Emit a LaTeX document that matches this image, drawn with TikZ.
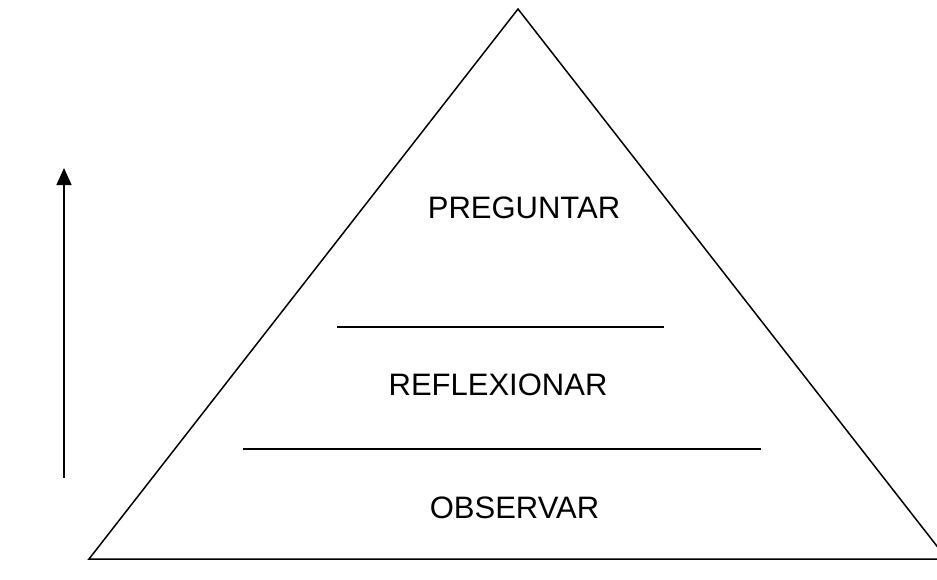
\documentclass[tikz,border=0pt]{standalone}
\usepackage{fontspec}
\setmainfont{Liberation Sans}
\usetikzlibrary{arrows.meta}
\begin{document}
\begin{tikzpicture}[x=1pt,y=-1pt,
  edge/.style={line width=1.5pt,black},
  label/.style={font=\fontsize{31}{37}\selectfont,inner sep=0pt,anchor=center}]
\useasboundingbox (0,0) rectangle (937,579);
\clip (0,0) rectangle (937,579);
\coordinate (apex) at (518,9);
\coordinate (bl) at (89,559);
\coordinate (br) at (947,559);
\draw[edge,line join=miter] (apex) -- (bl) -- (br) -- cycle;
\coordinate (u1) at (337,327);
\coordinate (u2) at (664,327);
\coordinate (l1) at (243,449);
\coordinate (l2) at (761,449);
\draw[edge] (u1) -- (u2);
\draw[edge] (l1) -- (l2);
\node[label] (preg) at (524,207.5) {PREGUNTAR};
\node[label] (refl) at (498,385) {REFLEXIONAR};
\node[label] (obs) at (514.5,507.5) {OBSERVAR};
\coordinate (a0) at (64,478);
\coordinate (a1) at (64,168);
\draw[edge,-{Triangle[width=15pt,length=17pt]}] (a0) -- (a1);
\end{tikzpicture}
\end{document}
